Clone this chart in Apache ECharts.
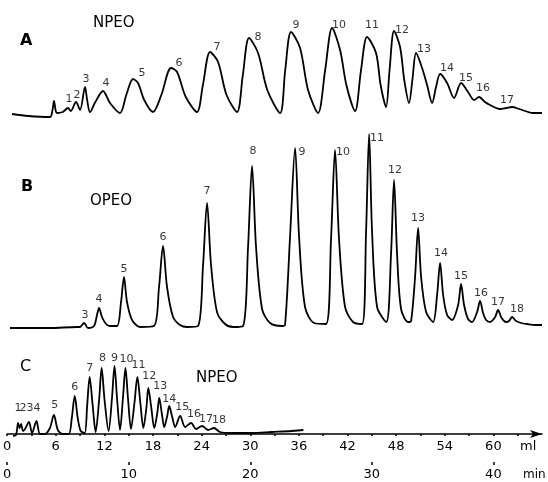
<!DOCTYPE html>
<html>
<head>
<meta charset="utf-8">
<script src="https://cdn.jsdelivr.net/npm/echarts@6/dist/echarts.min.js"></script>
<style>
html,body{margin:0;padding:0;background:#fff;}
#chart{width:548px;height:482px;}
</style>
</head>
<body>
<div id="chart"></div>
<script>
// x values in ml, y values in detector signal (arbitrary units above baseline)
var traceA = [[0.98,1],[3.0,-1],[5.64,-2],[5.95,5],[6.13,14],[6.35,4],[6.50,2],[7.2,3],[7.85,7],[8.2,4],[8.83,13],[9.33,5],[9.94,28],[10.2,15],[10.55,3],[11.2,13],[12.15,24],[13.0,12],[14.23,2],[15.0,20],[15.83,36],[16.44,32],[17.2,15],[18.28,3],[19.3,20],[20.49,47],[21.23,43],[22.3,18],[23.68,3],[24.4,30],[25.28,63],[26.26,53],[27.3,20],[28.59,3],[29.3,40],[30.06,77],[31.17,62],[32.3,25],[33.87,2],[34.5,45],[35.21,83],[36.32,67],[37.3,25],[38.53,2],[39.4,45],[40.25,87],[41.23,65],[42.0,30],[43.07,4],[43.8,45],[44.54,78],[45.64,62],[46.2,30],[46.87,8],[47.3,45],[47.85,84],[48.59,68],[49.1,35],[49.69,12],[50.1,35],[50.55,62],[51.29,47],[51.9,30],[52.52,12],[53.0,28],[53.50,41],[54.36,32],[55.21,17],[56.07,32],[56.93,23],[57.67,15],[58.28,18],[59.0,13],[59.63,10],[60.86,6],[61.6,7],[62.33,8],[63.2,6],[64.91,2],[66.0,2]];

var traceB = [[0.74,-1],[5.64,-1],[8.96,0],[9.33,0],[9.82,4],[10.31,-1],[11.04,1],[11.41,12],[11.66,19],[12.02,10],[12.52,3],[13.01,1],[13.87,1],[14.36,25],[14.72,50],[15.09,25],[15.71,7],[16.69,0],[18.40,1],[19.02,40],[19.51,81],[20.00,40],[20.74,10],[21.60,2],[22.45,0],[23.80,1],[24.42,62],[24.91,124],[25.40,62],[26.13,15],[27.12,3],[28.10,0],[29.33,1],[29.94,80],[30.43,161],[30.92,80],[31.66,18],[32.64,4],[34.11,1],[34.48,2],[35.09,90],[35.71,179],[36.20,90],[36.93,20],[38.04,4],[39.5,3],[40.12,88],[40.61,177],[41.10,88],[41.84,20],[42.82,5],[43.93,3],[44.42,96],[44.79,193],[45.15,96],[45.77,20],[46.9,5],[47.48,73],[47.85,147],[48.22,73],[48.71,18],[49.57,5],[49.94,6],[50.43,50],[50.80,99],[51.17,50],[51.78,15],[52.64,5],[53.13,32],[53.50,64],[53.87,32],[54.36,12],[54.97,7],[55.71,22],[56.07,43],[56.44,22],[56.93,8],[57.42,5],[58.04,15],[58.40,26],[58.77,14],[59.14,7],[59.63,5],[60.25,10],[60.61,17],[60.98,10],[61.35,6],[61.60,5],[61.96,6],[62.33,10],[62.82,6],[63.44,4],[64.17,3],[65.15,2],[66.0,2]];

var traceC = [[0.74,-2],[1.10,-1],[1.35,11],[1.53,6],[1.72,10],[1.96,3],[2.21,5],[2.70,12],[3.07,1],[3.62,13],[4.05,0],[4.66,0],[5.28,6],[5.77,19],[6.26,4],[6.87,0],[7.61,0],[7.98,16],[8.34,38],[8.71,16],[9.08,3],[9.57,1],[9.88,29],[10.18,57],[10.55,29],[10.92,2],[11.35,34],[11.66,66],[12.02,34],[12.52,3],[12.94,36],[13.25,68],[13.56,36],[13.93,4],[14.29,36],[14.60,66],[14.91,36],[15.28,5],[15.71,31],[16.07,57],[16.44,31],[16.81,6],[17.18,26],[17.42,46],[17.79,26],[18.16,6],[18.53,21],[18.77,36],[19.08,21],[19.39,7],[19.75,18],[20.00,28],[20.37,17],[20.74,7],[21.35,18],[21.96,7],[22.70,11],[23.31,5],[24.05,8],[24.79,4],[25.52,6],[26.26,2],[27.73,1],[30.18,1],[32.64,2],[35.09,3],[36.56,4]];

// peak numbers: [label, ml, signal]
var peaksA = [["1",7.98,16],["2",8.96,20],["3",10.06,36],["4",12.52,32],["5",16.93,42],["6",21.47,52],["7",26.13,68],["8",31.17,78],["9",35.83,90],["10",41.10,90],["11",45.15,90],["12",48.83,85],["13",51.53,66],["14",54.36,47],["15",56.69,37],["16",58.77,27],["17",61.72,15]];
var peaksB = [["3",9.94,12],["4",11.66,28],["5",14.72,58],["6",19.51,90],["7",24.91,136],["8",30.55,176],["9",36.56,175],["10",41.60,175],["11",45.77,189],["12",47.98,157],["13",50.80,109],["14",53.62,74],["15",56.07,51],["16",58.53,34],["17",60.61,25],["18",62.94,18]];
var peaksC = [["1",1.35,26],["2",1.96,26],["3",2.82,26],["4",3.68,26],["5",5.89,29],["6",8.34,47],["7",10.18,66],["8",11.78,76],["9",13.25,76],["10",14.72,75],["11",16.20,69],["12",17.55,58],["13",18.90,48],["14",20.00,35],["15",21.60,27],["16",23.07,20],["17",24.54,15],["18",26.13,14]];

var mlTicks = [0,6,12,18,24,30,36,42,48,54,60];
var mlMinorTicks = [0,3,6,9,12,15,18,21,24,27,30,33,36,39,42,45,48,51,54,57,60,63];
var minTicks = [0,10,20,30,40];
var panelLetters = ["A","B","C"];
var panelNames = ["NPEO","OPEO","NPEO"];

var FONT = "'DejaVu Sans', 'Liberation Sans', sans-serif";
var chart = echarts.init(document.getElementById('chart'), null, {renderer:'canvas'});

function lineSeries(data, idx){
  return {type:'line', xAxisIndex: idx, yAxisIndex: idx, data: data, smooth: 0.3,
    symbol:'none', lineStyle:{color:'#000', width:1.8}, silent:true, z:2};
}
function labelSeries(peaks, idx){
  return {type:'scatter', xAxisIndex: idx, yAxisIndex: idx, symbolSize:0,
    data: peaks.map(function(p){return {name:p[0], value:[p[1],p[2]]};}),
    label:{show:true, position:'inside', formatter:'{b}', color:'#000', fontSize:11, fontFamily:FONT},
    silent:true, z:3};
}
var hiddenX = function(g){return {type:'value', gridIndex:g, min:0, max:66, show:false};};

var option = {
  animation:false,
  backgroundColor:'#fff',
  grid:[
    {left:4, right:6, top:10, height:110},
    {left:4, right:6, top:125, height:207},
    {left:4, right:6, top:350, height:90}
  ],
  xAxis:[
    hiddenX(0), hiddenX(1),
    {type:'value', gridIndex:2, min:0, max:66, interval:3, position:'bottom', offset:22,
      axisLine:{show:true, lineStyle:{color:'#000', width:1.5}, symbol:['none','arrow'], symbolSize:[6,12]},
      axisTick:{show:true, length:2, customValues: mlMinorTicks, lineStyle:{color:'#000', width:1.5}},
      splitLine:{show:false},
      axisLabel:{inside:true, margin:9, color:'#000', fontSize:13, fontFamily:FONT, customValues: mlTicks,
        formatter:function(v){return String(v);}}},
    {type:'value', gridIndex:2, min:0, max:44, interval:10, position:'bottom', offset:22,
      axisLine:{show:false}, axisTick:{show:true, length:3, customValues: minTicks, lineStyle:{color:'#000', width:1.5}},
      splitLine:{show:false},
      axisLabel:{margin:6, color:'#000', fontSize:13, fontFamily:FONT, customValues: minTicks,
        formatter:function(v){return String(v);}}}
  ],
  yAxis:[
    {type:'value', gridIndex:0, min:-5, max:105, show:false},
    {type:'value', gridIndex:1, min:-5, max:202, show:false},
    {type:'value', gridIndex:2, min:-6, max:84, show:false}
  ],
  series:[
    lineSeries(traceA,0), lineSeries(traceB,1), lineSeries(traceC,2),
    labelSeries(peaksA,0), labelSeries(peaksB,1), labelSeries(peaksC,2)
  ],
  graphic:[
    {type:'text', left:20, top:33, style:{text:panelLetters[0], font:'bold 16px '+FONT, fill:'#000'}},
    {type:'text', left:93, top:16, style:{text:panelNames[0], font:'15px '+FONT, fill:'#000'}},
    {type:'text', left:21, top:179, style:{text:panelLetters[1], font:'bold 16px '+FONT, fill:'#000'}},
    {type:'text', left:90, top:194, style:{text:panelNames[1], font:'15px '+FONT, fill:'#000'}},
    {type:'text', left:20, top:359, style:{text:panelLetters[2], font:'16px '+FONT, fill:'#000'}},
    {type:'text', left:196, top:371, style:{text:panelNames[2], font:'15px '+FONT, fill:'#000'}},
    {type:'text', left:520, top:440, style:{text:'ml', font:'13px '+FONT, fill:'#000'}},
    {type:'text', left:523, top:469, style:{text:'min', font:'12px '+FONT, fill:'#000'}}
  ]
};
chart.setOption(option);
</script>
</body>
</html>
